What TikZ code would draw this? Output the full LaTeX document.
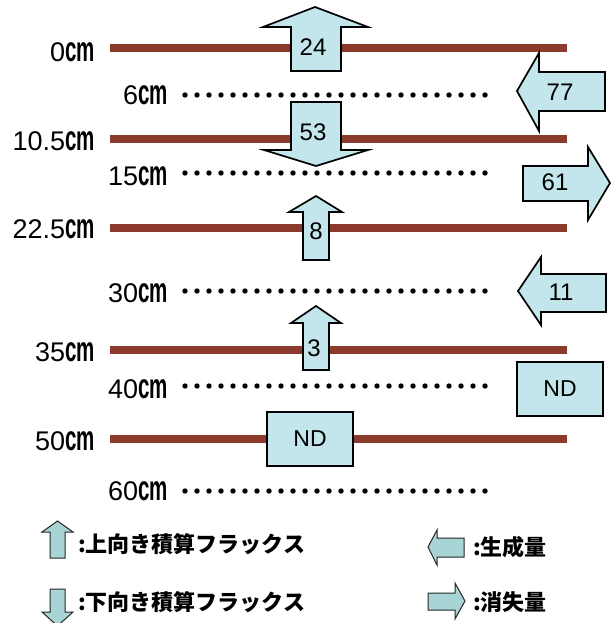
\documentclass[tikz,border=0pt]{standalone}
\usepackage{fontspec}
\setmainfont{Liberation Sans}
\newfontfamily\jpfont{Noto Sans CJK JP}
\definecolor{soil}{HTML}{8B3A2C}
\definecolor{flux}{HTML}{C2E6EB}
\definecolor{legfill}{HTML}{A9D4D6}
\newcommand\cmunit{\scalebox{0.76}[1.3]{\bfseries cm}}
\tikzset{
  solidline/.style={draw=soil, line width=8.5pt, line cap=butt},
  dotdot/.style={fill=black, draw=none},
  fluxarrow/.style={draw=black, fill=flux, line width=1.7pt, line join=miter},
  legarrow/.style={draw=black!85, fill=legfill, line width=1pt, line join=miter},
  depth/.style={anchor=base east, font=\fontsize{27}{27}\selectfont, inner sep=0pt},
  val/.style={font=\fontsize{24}{24}\selectfont, inner sep=0pt},
  legtext/.style={anchor=west, font=\jpfont\bfseries\fontsize{22}{22}\selectfont, inner sep=0pt},
}
\begin{document}
\begin{tikzpicture}[x=1pt,y=-1pt]
\useasboundingbox (0,0) rectangle (610,623);
\fill[white] (0,0) rectangle (610,623);

% solid layers
\foreach \yy in {48,139,228,350,439}{
  \draw[solidline] (110,\yy) -- (567,\yy);
}
% dotted layers
\foreach \yy in {95,173,291,386,491}{
  \foreach \xx in {185,197,...,485}{
    \fill[dotdot] (\xx,\yy) circle (2.7);
  }
}

% depth labels
\node[depth] (d0)  at (95,62)  {0\cmunit};
\node[depth] (d6)  at (168,105) {6\cmunit};
\node[depth] (d10) at (95,150) {10.5\cmunit};
\node[depth] (d15) at (168,185) {15\cmunit};
\node[depth] (d22) at (95,238) {22.5\cmunit};
\node[depth] (d30) at (168,302) {30\cmunit};
\node[depth] (d35) at (95,361) {35\cmunit};
\node[depth] (d40) at (168,398) {40\cmunit};
\node[depth] (d50) at (95,450) {50\cmunit};
\node[depth] (d60) at (168,500) {60\cmunit};

% vertical flux arrows
\draw[fluxarrow] (291,71) -- (291,27) -- (263,27) -- (315,7) -- (368,27) -- (341,27) -- (341,71) -- cycle;
\node[val] (f24) at (313,47) {24};
\draw[fluxarrow] (291,102) -- (341,102) -- (341,150) -- (368,150) -- (316,166) -- (264,150) -- (291,150) -- cycle;
\node[val] (f53) at (313,132) {53};
\draw[fluxarrow] (303,260) -- (303,212) -- (289,212) -- (316,196) -- (342,212) -- (329,212) -- (329,260) -- cycle;
\node[val] (f8) at (316,231) {8};
\draw[fluxarrow] (303,370) -- (303,323) -- (291,323) -- (316,306) -- (341,323) -- (329,323) -- (329,370) -- cycle;
\node[val] (f3) at (314,348) {3};

\node[fluxarrow, draw, minimum width=86pt, minimum height=54pt, inner sep=0pt,
      font=\fontsize{23}{23}\selectfont] (nd1) at (310,439) {ND};

% production / consumption arrows
\draw[fluxarrow] (605,72) -- (539,72) -- (539,53) -- (517,91) -- (539,131) -- (539,111) -- (605,111) -- cycle;
\node[val] (p77) at (560,92) {77};
\draw[fluxarrow] (523,166) -- (588,166) -- (588,147) -- (610,183) -- (588,220) -- (588,201) -- (523,201) -- cycle;
\node[val] (c61) at (555,182) {61};
\draw[fluxarrow] (606,274) -- (541,274) -- (541,257) -- (518,291) -- (541,325) -- (541,312) -- (606,312) -- cycle;
\node[val] (p11) at (561,292) {11};
\node[fluxarrow, draw, minimum width=86pt, minimum height=54pt, inner sep=0pt,
      font=\fontsize{23}{23}\selectfont] (nd2) at (560,389) {ND};

% legend
\draw[legarrow] (50,558) -- (50,532) -- (42,532) -- (57.5,521) -- (73,532) -- (65,532) -- (65,558) -- cycle;
\node[legtext] (l1) at (78,544) {:上向き積算フラックス};
\draw[legarrow] (50,589) -- (65,589) -- (65,612) -- (73,612) -- (57.5,626) -- (42,612) -- (50,612) -- cycle;
\node[legtext] (l2) at (78,602) {:下向き積算フラックス};
\draw[legarrow] (464,538) -- (437,538) -- (437,530) -- (428,547) -- (437,565) -- (437,557) -- (464,557) -- cycle;
\node[legtext] (l3) at (473,547) {:生成量};
\draw[legarrow] (428,593) -- (455,593) -- (455,583) -- (465,601) -- (455,619) -- (455,610) -- (428,610) -- cycle;
\node[legtext] (l4) at (473,602) {:消失量};
\end{tikzpicture}
\end{document}
